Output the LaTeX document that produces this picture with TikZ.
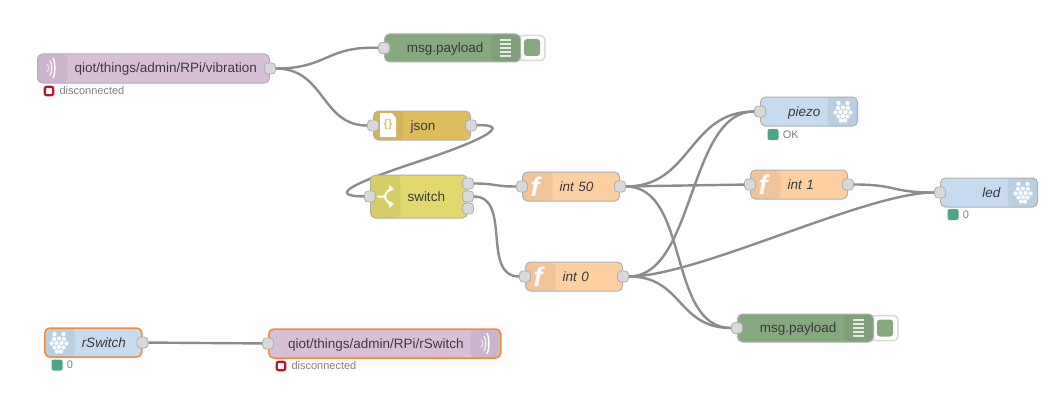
\documentclass[tikz,border=0pt]{standalone}
\usepackage{fontspec}
\setmainfont{Liberation Sans}
\usepackage{tikz}
\usetikzlibrary{positioning, backgrounds}

\definecolor{mqttcol}{HTML}{D8BFD8}
\definecolor{debugcol}{HTML}{87A980}
\definecolor{jsoncol}{HTML}{DEBD5C}
\definecolor{switchcol}{HTML}{E2D96E}
\definecolor{funccol}{HTML}{FDD0A2}
\definecolor{rpicol}{HTML}{C6DBEF}
\definecolor{portcol}{HTML}{D9D9D9}
\definecolor{wirecol}{HTML}{8C8C8C}
\definecolor{edgecol}{HTML}{B0B0B0}
\definecolor{selcol}{HTML}{F58A2E}
\definecolor{okcol}{HTML}{4DA683}
\definecolor{badcol}{HTML}{C8102E}
\definecolor{labelcol}{HTML}{3A3A3A}

\begin{document}
\begin{tikzpicture}[
                x=1pt, y=-1pt,
                flow/.style={draw=edgecol, line width=1pt, rounded corners=5pt, anchor=west, inner xsep=0pt, inner ysep=0pt, minimum height=29pt, text height=10pt, text depth=1pt, text=labelcol, font=\fontsize{13.5}{16}\selectfont}, % Base for all boxes
                iconleft/.style={flow, text width=#1, align=left, execute at begin node={\leavevmode\hspace*{37pt}}, path picture={\fill[black, opacity=0.05] (path picture bounding box.north west) rectangle ([xshift=30pt]path picture bounding box.south west);}},
                iconright/.style={flow, text width=#1, align=right, execute at end node={\hspace*{37pt}}, path picture={\fill[black, opacity=0.05] (path picture bounding box.north east) rectangle ([xshift=-30pt]path picture bounding box.south east);}},
                selected/.style={draw=selcol, line width=1.5pt},
                port/.style={draw=edgecol, fill=portcol, line width=0.8pt, rounded corners=3.5pt, minimum size=11pt, inner sep=0pt},
                wire/.style={draw=wirecol, line width=2.4pt},
                dbgtab/.style={draw=portcol, fill=white, line width=1.5pt, rounded corners=4pt, anchor=west, minimum width=26pt, minimum height=25pt, inner sep=0pt},
                dbgfill/.style={fill=debugcol, rounded corners=3pt, minimum width=16pt, minimum height=17pt, inner sep=0pt},
                statusok/.style={fill=okcol, rounded corners=2pt, minimum size=11pt, inner sep=0pt},
                statusbad/.style={draw=badcol, fill=white, line width=2.2pt, rounded corners=2pt, minimum size=8.5pt, inner sep=0pt},
                statustext/.style={text=gray, inner sep=0pt, font=\fontsize{11}{13}\selectfont},
                iconline/.style={draw=white, line width=1.4pt, line cap=round},
                pics/waves/.style={code={
                    \foreach \r/\o in {2/0.5, 5/0.8, 8/1} {
                        \draw[iconline, opacity=\o] (\r-1, -\r-2) .. controls (\r+1.5, -\r+1) and (\r+1.5, \r-1) .. (\r-1, \r+2);
                    }
                }},
                pics/berry/.style={code={
                    \foreach \dx/\dy in {-4.5/-8.5, 4.5/-8.5, -5/-3.5, 0/-4, 5/-3.5, -7.5/1, -2.5/0.5, 2.5/0.5, 7.5/1, -4.5/5, 0/4.5, 4.5/5, -2/9, 2/9} {
                        \fill[white, opacity=0.9] (\dx, \dy) circle (2.2pt);
                    }
                }},
                pics/listlines/.style={code={
                    \foreach \dy in {-8, -4, 0, 4, 8} {
                        \fill[white, opacity=0.8] (-5.5, \dy-1) rectangle (5.5, \dy+1);
                    }
                }},
                pics/funcf/.style={code={
                    \node[text=white, inner sep=0pt, font=\fontsize{27}{27}\selectfont\bfseries\itshape\rmfamily] at (0, 0) {f};
                }}
            ]
            \useasboundingbox (0,0) rectangle (1060,412);

            % top row
            \node[iconleft=232pt, fill=mqttcol] (vibration) at (37,68.5) {qiot/things/admin/RPi/vibration};
            \node[dbgtab] (debugAtab) at (518,48) {};
            \node[dbgfill] (debugAbtn) at (532,47.5) {};
            \node[iconright=136pt, fill=debugcol, minimum height=28pt] (debugA) at (384,48) {msg.payload};

            % middle
            \node[iconleft=97pt, fill=jsoncol] (json) at (373,125.5) {json};
            \node[iconleft=97pt, fill=switchcol, minimum height=43pt] (switch) at (370,196.5) {switch};
            \node[iconleft=97pt, fill=funccol, font=\fontsize{13.5}{16}\selectfont\itshape] (int50) at (522,186.5) {int 50};
            \node[iconleft=97pt, fill=funccol, font=\fontsize{13.5}{16}\selectfont\itshape] (int0) at (525,276.5) {int 0};
            \node[iconleft=97pt, fill=funccol, font=\fontsize{13.5}{16}\selectfont\itshape] (int1) at (750,184.5) {int 1};

            % right side
            \node[iconright=97pt, fill=rpicol, font=\fontsize{13.5}{16}\selectfont\itshape] (piezo) at (760,111.5) {piezo};
            \node[iconright=97pt, fill=rpicol, font=\fontsize{13.5}{16}\selectfont\itshape] (led) at (940,192.5) {led};
            \node[dbgtab] (debugBtab) at (871,328) {};
            \node[dbgfill] (debugBbtn) at (885,328) {};
            \node[iconright=136pt, fill=debugcol, minimum height=28pt] (debugB) at (737,328) {msg.payload};

            % bottom row
            \node[iconleft=97pt, fill=rpicol, selected, font=\fontsize{13.5}{16}\selectfont\itshape] (rswitch) at (44,342.5) {rSwitch};
            \node[iconright=232pt, fill=mqttcol, selected] (rmqtt) at (268,343.5) {qiot/things/admin/RPi/rSwitch};

            % ports
            \node[port] (vibrationOut) at (vibration.east) {};
            \node[port] (debugAIn) at (debugA.west) {};
            \node[port] (jsonIn) at (json.west) {};
            \node[port] (jsonOut) at (json.east) {};
            \node[port] (switchIn) at (switch.west) {};
            \node[port] (switchOutA) at ([yshift=13pt]switch.east) {};
            \node[port] (switchOutB) at (switch.east) {};
            \node[port] (switchOutC) at ([yshift=-12pt]switch.east) {};
            \node[port] (int50In) at (int50.west) {};
            \node[port] (int50Out) at (int50.east) {};
            \node[port] (int0In) at (int0.west) {};
            \node[port] (int0Out) at (int0.east) {};
            \node[port] (int1In) at (int1.west) {};
            \node[port] (int1Out) at (int1.east) {};
            \node[port] (piezoIn) at (piezo.west) {};
            \node[port] (ledIn) at (led.west) {};
            \node[port] (debugBIn) at (debugB.west) {};
            \node[port] (rswitchOut) at (rswitch.east) {};
            \node[port] (rmqttIn) at (rmqtt.west) {};

            % status lines
            \node[statusbad] (vibrationDot) at (49,91) {};
            \node[statustext, right=5pt of vibrationDot] (vibrationState) {disconnected};
            \node[statusok] (piezoDot) at (773,134.5) {};
            \node[statustext, right=4pt of piezoDot] (piezoState) {OK};
            \node[statusok] (ledDot) at (953,214.5) {};
            \node[statustext, right=4pt of ledDot] (ledState) {0};
            \node[statusok] (rswitchDot) at (57,365) {};
            \node[statustext, right=4pt of rswitchDot] (rswitchState) {0};
            \node[statusbad] (rmqttDot) at (281,366) {};
            \node[statustext, right=5pt of rmqttDot] (rmqttState) {disconnected};

            % icons
            \pic at (46,68) {waves};
            \pic at (480,343.5) {waves};
            \pic at (505,48) {listlines};
            \pic at (858,328) {listlines};
            \pic at (843,111.5) {berry};
            \pic at (1023,192.5) {berry};
            \pic at (59,342.5) {berry};
            \pic at (535,186.5) {funcf};
            \pic at (538,276.5) {funcf};
            \pic at (763,184.5) {funcf};
            \fill[white] (380,113) -- (392,113) -- (396,118) -- (396,137) -- (380,137) -- cycle;
            \node[text=jsoncol, inner sep=0pt, font=\fontsize{11}{13}\selectfont\bfseries] (jsonMark) at (388,125) {\{\}};
            \draw[iconline, line width=2pt] (378,196.5) -- (384,196.5) .. controls (386,196.5) and (386,190) .. (391,189);
            \draw[iconline, line width=2pt] (384,196.5) .. controls (386,196.5) and (386,203) .. (391,204);
            \fill[white] (389,185) -- (394,189) -- (389,192) -- cycle;
            \fill[white] (389,201) -- (394,204) -- (389,208) -- cycle;

            % wires stay under the boxes
            \begin{scope}[on background layer]
                \draw[wire] (vibrationOut) .. controls +(58,0) and +(-58,-2) .. (debugAIn);
                \draw[wire] (vibrationOut) .. controls +(55,0) and +(-52,0) .. (jsonIn);
                \draw[wire] (jsonOut) .. controls (510,124) and (490,138) .. (420,161) .. controls (350,184) and (328,196) .. (switchIn);
                \draw[wire] (switchOutA) .. controls +(28,0) and +(-28,0) .. (int50In);
                \draw[wire] (switchOutB) .. controls +(44,0) and +(-44,0) .. (int0In);
                \draw[wire] (int50Out) .. controls +(72,0) and +(-72,0) .. (piezoIn);
                \draw[wire] (int50Out) -- (int1In);
                \draw[wire] (int50Out) .. controls +(70,0) and +(-70,0) .. (debugBIn);
                \draw[wire] (int0Out) .. controls +(72,0) and +(-72,0) .. (piezoIn);
                \draw[wire] (int0Out) .. controls +(75,0) and +(-75,0) .. (ledIn);
                \draw[wire] (int0Out) .. controls +(60,0) and +(-60,0) .. (debugBIn);
                \draw[wire] (int1Out) .. controls +(50,0) and +(-50,0) .. (ledIn);
                \draw[wire] (rswitchOut) -- (rmqttIn);
            \end{scope}
        \end{tikzpicture}
\end{document}
